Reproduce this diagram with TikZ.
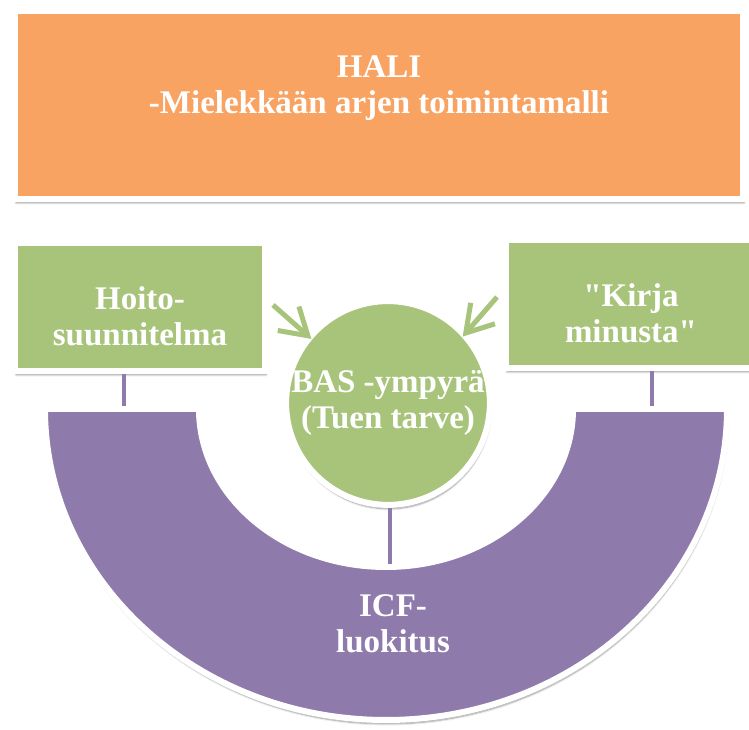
\documentclass[tikz,border=0pt]{standalone}
\usepackage{fontspec}
\setmainfont{Liberation Serif}[Ligatures=TeXOff]
\usetikzlibrary{arrows.meta,shadows.blur}
\definecolor{haliorange}{HTML}{F9A363}
\definecolor{haligreen}{HTML}{A8C47B}
\definecolor{halipurple}{HTML}{8E7AAB}
\tikzset{
  boxframe/.style={draw=white, line width=6pt, blur shadow={shadow xshift=1pt, shadow yshift=-4pt, shadow opacity=40, shadow blur steps=6}},
  orangebox/.style={boxframe, rectangle, fill=haliorange, minimum width=728pt, minimum height=188pt},
  greenbox/.style={boxframe, rectangle, fill=haligreen, minimum width=250pt, minimum height=128pt},
  boxtext/.style={text=white, font=\bfseries\fontsize{33}{36}\selectfont, align=center, inner sep=0pt},
  link/.style={draw=halipurple, line width=4pt},
  feed/.style={draw=haligreen, line width=5pt, shorten >=-5pt, -{Straight Barb[length=26pt, width=32pt]}}
}
\begin{document}
\begin{tikzpicture}[x=1pt,y=1pt]
  \useasboundingbox (0,0) rectangle (749,730);
  \node[orangebox] (hali) at (379,625) {};
  \node[boxtext] (halitxt) at ([yshift=17pt]hali.center) {HALI\\-Mielekkään arjen toimintamalli};
  \node[greenbox] (hoito) at (140,423) {};
  \node[boxtext] (hoitotxt) at ([yshift=-9pt]hoito.center) {Hoito-\\suunnitelma};
  \node[greenbox] (kirja) at (631,426) {};
  \node[boxtext] (kirjatxt) at ([yshift=-9pt]kirja.center) {"Kirja\\minusta"};
  % ICF half ring
  \draw[boxframe, fill=halipurple] (45,321) arc[start angle=180, end angle=360, x radius=341, y radius=311]
    -- (573,321) arc[start angle=0, end angle=-180, x radius=187, y radius=158] -- cycle;
  \node[boxtext] (icf) at (393,106) {ICF-\\luokitus};
  \node[boxframe, circle, fill=haligreen, minimum size=196pt, boxtext] (bas) at (388,327) {BAS -ympyrä\\(Tuen tarve)};
  \coordinate (hoitopin) at (124,324);
  \coordinate (kirjapin) at (652,324);
  \coordinate (baspin) at (390,166);
  \draw[link] (hoito.south -| hoitopin) -- (hoitopin);
  \draw[link] (kirja.south -| kirjapin) -- (kirjapin);
  \draw[link] (bas.south -| baspin) -- (baspin);
  \draw[feed] ([xshift=5pt,yshift=2pt]hoito.east) -- (bas.140);
  \draw[feed] ([xshift=-6pt,yshift=7pt]kirja.west) -- (bas.42);
\end{tikzpicture}
\end{document}
